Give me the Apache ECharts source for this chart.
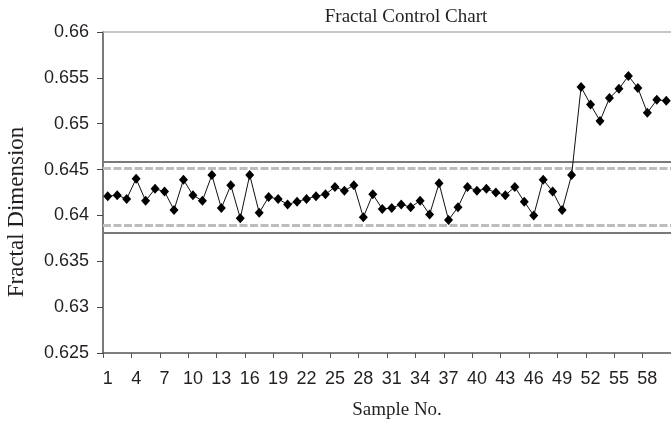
<!DOCTYPE html>
<html>
<head>
<meta charset="utf-8">
<script src="https://cdn.jsdelivr.net/npm/echarts@6/dist/echarts.min.js"></script>
<style>
  html, body { margin: 0; padding: 0; background: #fff; }
  #chart { width: 671px; height: 425px; }
</style>
</head>
<body>
<div id="chart"></div>
<script>
// Sample numbers along the x axis
const samples = [
  '1','2','3','4','5','6','7','8','9','10',
  '11','12','13','14','15','16','17','18','19','20',
  '21','22','23','24','25','26','27','28','29','30',
  '31','32','33','34','35','36','37','38','39','40',
  '41','42','43','44','45','46','47','48','49','50',
  '51','52','53','54','55','56','57','58','59','60'
];

// Fractal dimension measured for each sample
const fractalDim = [
  0.6421, 0.6422, 0.6418, 0.6440, 0.6416, 0.6429, 0.6426, 0.6406, 0.6439, 0.6422,
  0.6416, 0.6444, 0.6408, 0.6433, 0.6397, 0.6444, 0.6403, 0.6420, 0.6418, 0.6412,
  0.6415, 0.6418, 0.6421, 0.6423, 0.6431, 0.6427, 0.6433, 0.6398, 0.6423, 0.6407,
  0.6408, 0.6412, 0.6409, 0.6416, 0.6401, 0.6435, 0.6395, 0.6409, 0.6431, 0.6427,
  0.6429, 0.6425, 0.6422, 0.6431, 0.6415, 0.6400, 0.6439, 0.6426, 0.6406, 0.6444,
  0.6540, 0.6521, 0.6503, 0.6528, 0.6538, 0.6552, 0.6539, 0.6512, 0.6526, 0.6525
];

// Control limits (solid) and warning limits (dashed)
const controlLimits = [0.6458, 0.6381];
const warningLimits = [0.6451, 0.6389];

// Value axis range and tick step
const yMin = 0.625, yMax = 0.66, yStep = 0.005;

const serif = '"Liberation Serif", "Times New Roman", serif';
const sans = '"Liberation Sans", Arial, sans-serif';

const chart = echarts.init(document.getElementById('chart'), null, { renderer: 'canvas' });

const limitLines = []
  .concat(controlLimits.map(v => ({
    yAxis: v,
    lineStyle: { color: '#7a7a7a', width: 2, type: 'solid' }
  })))
  .concat(warningLimits.map(v => ({
    yAxis: v,
    lineStyle: { color: '#bdbdbd', width: 3, type: [8, 2.5] }
  })));

chart.setOption({
  animation: false,
  backgroundColor: '#ffffff',
  title: {
    text: 'Fractal Control Chart',
    left: 401,
    top: 3,
    textAlign: 'center',
    textStyle: { fontFamily: serif, fontSize: 19, fontWeight: 'normal', color: '#231f20' }
  },
  grid: { left: 103, right: -4, top: 32, bottom: 68, containLabel: false },
  xAxis: [{
    type: 'category',
    data: samples,
    boundaryGap: true,
    name: 'Sample No.',
    nameLocation: 'middle',
    nameGap: 48,
    nameTextStyle: { fontFamily: serif, fontSize: 19, color: '#231f20', padding: [0, 0, 0, 20] },
    axisLine: { show: true, lineStyle: { color: '#555', width: 1.5 } },
    axisTick: { show: true, length: 5, lineStyle: { color: '#555', width: 1 } },
    axisLabel: { interval: 2, margin: 17, fontFamily: sans, fontSize: 18, color: '#231f20' },
    splitLine: { show: false }
  }, {
    type: 'category',
    data: samples,
    position: 'top',
    axisLine: { show: true, lineStyle: { color: '#b5b5b5', width: 1.5 } },
    axisTick: { show: false },
    axisLabel: { show: false },
    splitLine: { show: false }
  }],
  yAxis: {
    type: 'value',
    min: yMin,
    max: yMax,
    interval: yStep,
    axisLine: { show: true, lineStyle: { color: '#7a7a7a', width: 2 } },
    axisTick: { show: true, length: 6, lineStyle: { color: '#444', width: 1 } },
    axisLabel: {
      margin: 14,
      fontFamily: sans,
      fontSize: 18,
      color: '#231f20',
      formatter: v => String(parseFloat(v.toFixed(3)))
    },
    splitLine: { show: false }
  },
  graphic: [{
    type: 'text',
    x: 17,
    y: 212,
    rotation: Math.PI / 2,
    style: {
      text: 'Fractal Dimension',
      fontFamily: serif,
      fontSize: 23,
      fill: '#231f20',
      textAlign: 'center',
      textVerticalAlign: 'middle'
    }
  }],
  series: [{
    type: 'line',
    xAxisIndex: 0,
    data: fractalDim,
    symbol: 'diamond',
    symbolSize: [9, 10],
    showSymbol: true,
    showAllSymbol: true,
    itemStyle: { color: '#000' },
    lineStyle: { color: '#111', width: 1 },
    z: 5,
    markLine: {
      silent: true,
      symbol: 'none',
      precision: 5,
      label: { show: false },
      z: 2,
      data: limitLines
    }
  }]
});
</script>
</body>
</html>
